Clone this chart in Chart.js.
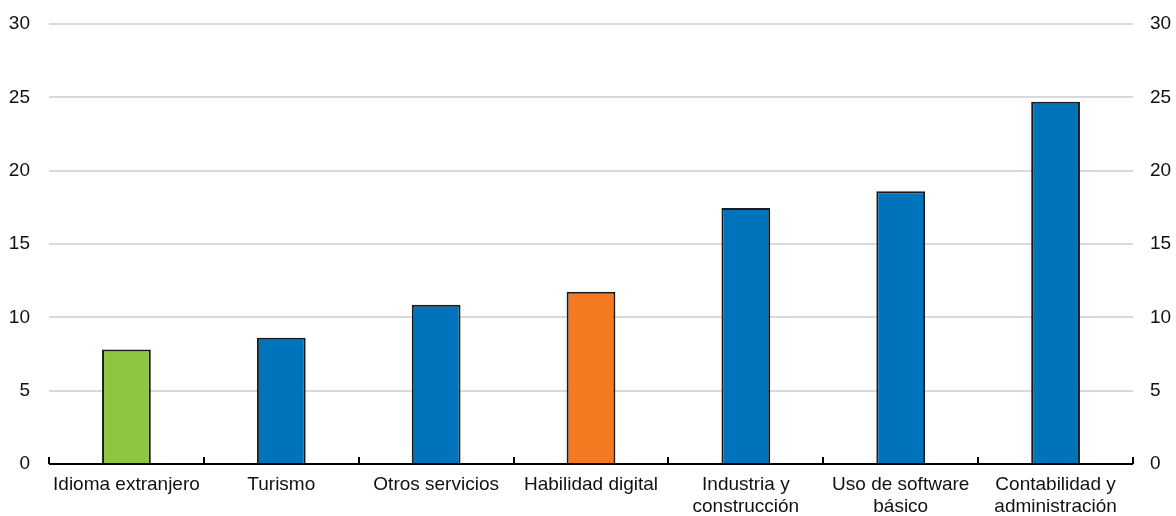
<!DOCTYPE html>
<html>
<head>
<meta charset="utf-8">
<script src="https://cdn.jsdelivr.net/npm/chart.js@4.4.0/dist/chart.umd.min.js"></script>
<style>
  html, body { margin: 0; padding: 0; background: #fff; }
  #wrap { width: 1176px; height: 516px; }
</style>
</head>
<body>
<div id="wrap"><canvas id="chart"></canvas></div>
<script>
// categories and values
const categories = [
  "Idioma extranjero",
  "Turismo",
  "Otros servicios",
  "Habilidad digital",
  ["Industria y", "construcción"],
  ["Uso de software", "básico"],
  ["Contabilidad y", "administración"],
];
const values = [7.8, 8.6, 10.85, 11.75, 17.45, 18.6, 24.7];
const barColors = ["#8dc63f", "#0073bd", "#0073bd", "#f47920", "#0073bd", "#0073bd", "#0073bd"];
const yTicks = [0, 5, 10, 15, 20, 25, 30];

// x axis line with small upward ticks between categories
const axisTicks = {
  id: "axisTicks",
  afterDraw(chart) {
    const ctx = chart.ctx;
    const x = chart.scales.x;
    const y0 = chart.scales.y.getPixelForValue(0);
    ctx.save();
    ctx.strokeStyle = "#000";
    ctx.lineWidth = 2;
    ctx.beginPath();
    ctx.moveTo(x.left, y0);
    ctx.lineTo(x.right, y0);
    const step = (x.right - x.left) / categories.length;
    for (let i = 0; i <= categories.length; i++) {
      const px = Math.round(x.left + i * step);
      ctx.moveTo(px, y0);
      ctx.lineTo(px, y0 - 7);
    }
    ctx.stroke();
    ctx.restore();
  },
};

const tickFont = { family: "'Liberation Sans', Arial, sans-serif", size: 19, lineHeight: 1.15 };

// fixed box sizes so the plot area sits where the original has it
const fitY = (w) => (s) => { s.width = w; s.paddingTop = 0; s.paddingBottom = 0; };

new Chart(document.getElementById("chart"), {
  type: "bar",
  data: {
    labels: categories,
    datasets: [{
      data: values,
      backgroundColor: barColors,
      borderColor: "#1a1a1a",
      borderWidth: 2,
      barPercentage: 0.63,
      categoryPercentage: 0.5,
    }],
  },
  options: {
    responsive: true,
    maintainAspectRatio: false,
    animation: false,
    layout: { padding: { top: 24, bottom: 0, left: 0, right: 0 } },
    plugins: { legend: { display: false }, tooltip: { enabled: false } },
    scales: {
      x: {
        afterFit: (s) => { s.height = 52; s.paddingLeft = 0; s.paddingRight = 0; },
        grid: { display: false },
        border: { display: false },
        ticks: { color: "#111", font: tickFont, maxRotation: 0, autoSkip: false, padding: 2 },
      },
      y: {
        position: "left",
        min: 0, max: 30,
        afterBuildTicks: (s) => { s.ticks = yTicks.map(v => ({ value: v })); },
        afterFit: fitY(49),
        grid: { color: "#d9d9d9", lineWidth: 2, drawTicks: false },
        border: { display: false },
        ticks: { color: "#111", font: tickFont, padding: 19 },
      },
      y2: {
        position: "right",
        min: 0, max: 30,
        afterBuildTicks: (s) => { s.ticks = yTicks.map(v => ({ value: v })); },
        afterFit: fitY(43),
        grid: { display: false, drawTicks: false },
        border: { display: false },
        ticks: { color: "#111", font: tickFont, padding: 17 },
      },
    },
  },
  plugins: [axisTicks],
});
</script>
</body>
</html>
